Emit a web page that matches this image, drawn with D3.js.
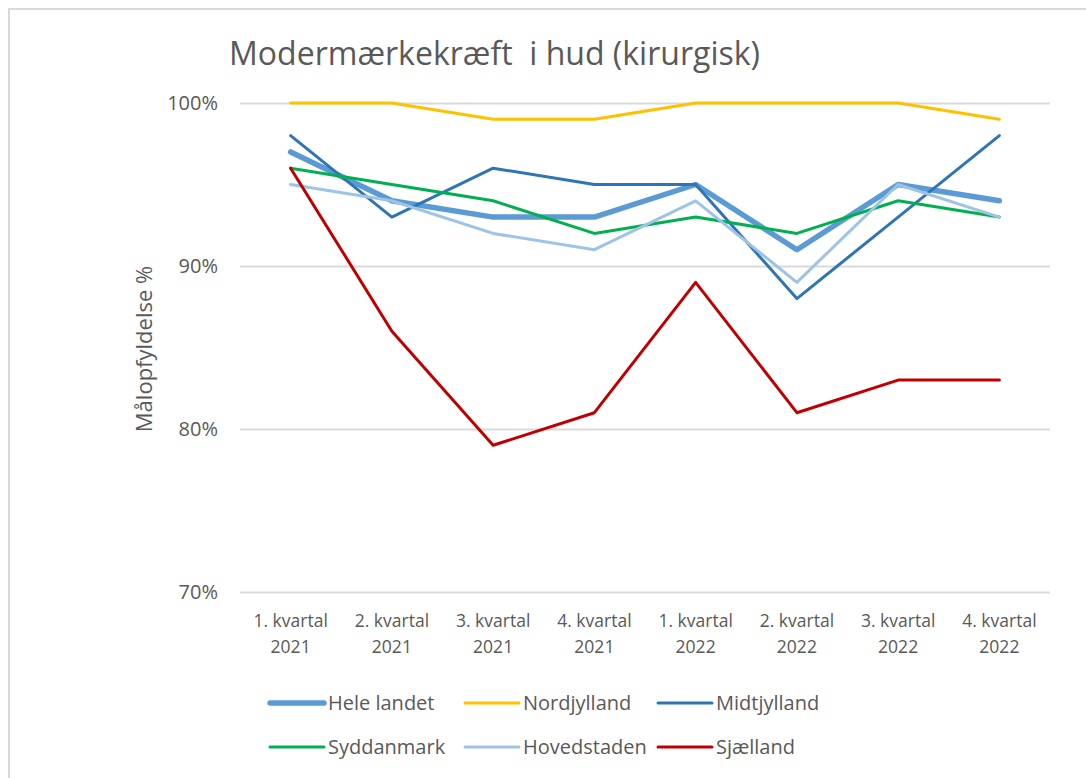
<!DOCTYPE html>
<html>
<head>
<meta charset="utf-8">
<script src="https://cdn.jsdelivr.net/npm/d3@7"></script>
<style>
  html, body { margin: 0; padding: 0; background: #fff; }
  svg { display: block; font-family: "Open Sans", "Noto Sans", sans-serif; }
</style>
</head>
<body>
<svg id="chart" width="1086" height="778"></svg>
<script>
const categories = ["1. kvartal|2021","2. kvartal|2021","3. kvartal|2021","4. kvartal|2021",
                    "1. kvartal|2022","2. kvartal|2022","3. kvartal|2022","4. kvartal|2022"];
const seriesNames = ["Hele landet","Nordjylland","Midtjylland","Syddanmark","Hovedstaden","Sjælland"];
const heleLandet  = [0.97, 0.94, 0.93, 0.93, 0.95, 0.91, 0.95, 0.94];
const nordjylland = [1.00, 1.00, 0.99, 0.99, 1.00, 1.00, 1.00, 0.99];
const midtjylland = [0.98, 0.93, 0.96, 0.95, 0.95, 0.88, 0.93, 0.98];
const syddanmark  = [0.96, 0.95, 0.94, 0.92, 0.93, 0.92, 0.94, 0.93];
const hovedstaden = [0.95, 0.94, 0.92, 0.91, 0.94, 0.89, 0.95, 0.93];
const sjaelland   = [0.96, 0.86, 0.79, 0.81, 0.89, 0.81, 0.83, 0.83];
const yTicks = [0.7, 0.8, 0.9, 1.0];
const title = "Modermærkekræft  i hud (kirurgisk)";
const yTitle = "Målopfyldelse %";

const seriesValues = [heleLandet, nordjylland, midtjylland, syddanmark, hovedstaden, sjaelland];
const colors = ["#5B9BD5", "#FFC000", "#2E75B6", "#00B050", "#9DC3E6", "#C00000"];
const widths = [5.5, 3, 3, 3, 3, 3];
const series = seriesNames.map((n, i) => ({name: n, values: seriesValues[i], color: colors[i], width: widths[i]}));

const svg = d3.select("#chart");
const textColor = "#595959";
const gridColor = "#D9D9D9";

// frame
svg.append("path").attr("d", "M9,778 L9,9 L1086,9").attr("fill", "none")
  .attr("stroke", "#D9D9D9").attr("stroke-width", 2);

const x = d3.scaleBand().domain(categories).range([240, 1050]).padding(0);
const y = d3.scaleLinear().domain([0.7, 1.0]).range([592, 103]);
const cx = c => x(c) + x.bandwidth() / 2;

// title
svg.append("text").attr("x", 229).attr("y", 65)
  .attr("font-size", 32).attr("fill", textColor)
  .attr("textLength", 531).attr("lengthAdjust", "spacingAndGlyphs")
  .style("white-space", "pre").text(title);

// gridlines + y tick labels
const yAxis = d3.axisLeft(y).tickValues(yTicks).tickFormat(d3.format(".0%"))
  .tickSize(-(1050 - 240)).tickPadding(22);
const gy = svg.append("g").attr("transform", "translate(240,0)").call(yAxis);
gy.select(".domain").remove();
gy.selectAll(".tick line").attr("stroke", gridColor).attr("stroke-width", 2);
gy.selectAll(".tick text").attr("fill", textColor).attr("font-size", 20)
  .attr("font-family", "'Open Sans', sans-serif");

// y title
svg.append("text")
  .attr("transform", "translate(152,349) rotate(-90)")
  .attr("text-anchor", "middle").attr("font-size", 22).attr("fill", textColor)
  .text(yTitle);

// x labels
const gx = svg.append("g");
categories.forEach(c => {
  const parts = c.split("|");
  const t = gx.append("text").attr("text-anchor", "middle").attr("fill", textColor)
    .attr("font-size", 17.5);
  t.append("tspan").attr("x", cx(c)).attr("y", 627).text(parts[0]);
  t.append("tspan").attr("x", cx(c)).attr("y", 653).text(parts[1]);
});

// lines
const line = d3.line().x((d, i) => cx(categories[i])).y(d => y(d));
svg.append("g").selectAll("path").data(series).join("path")
  .attr("d", d => line(d.values))
  .attr("fill", "none").attr("stroke", d => d.color).attr("stroke-width", d => d.width)
  .attr("stroke-linejoin", "round").attr("stroke-linecap", "round");

// legend
const legendPos = [[270, 703], [465, 703], [658, 703], [270, 747], [465, 747], [658, 747]];
const lg = svg.append("g");
series.forEach((s, i) => {
  const [lx, ly] = legendPos[i];
  lg.append("line").attr("x1", lx).attr("x2", lx + 54).attr("y1", ly).attr("y2", ly)
    .attr("stroke", s.color).attr("stroke-width", s.width).attr("stroke-linecap", "round");
  lg.append("text").attr("x", lx + 58).attr("y", ly + 7).attr("font-size", 20)
    .attr("fill", textColor).text(s.name);
});
</script>
</body>
</html>
